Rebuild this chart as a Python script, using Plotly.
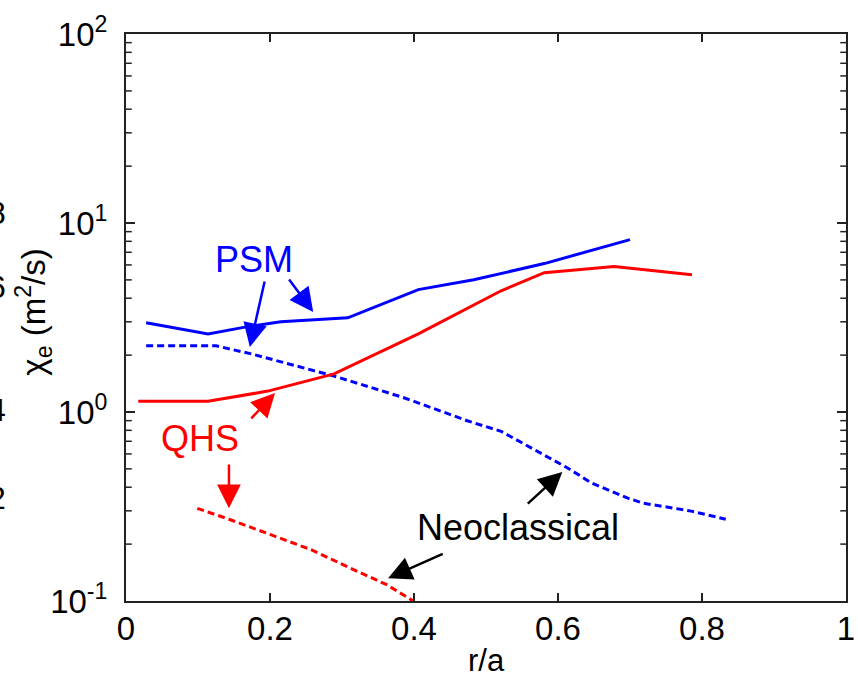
import math
import plotly.graph_objects as go

# ---- data ----
psm_r = [0.028, 0.114, 0.169, 0.215, 0.308, 0.406, 0.483, 0.581, 0.700]
psm_chi = [2.97, 2.59, 2.83, 3.00, 3.15, 4.44, 5.01, 6.10, 8.17]

psm_neo_r = [0.028, 0.125, 0.174, 0.289, 0.386, 0.475, 0.521, 0.554, 0.614, 0.647, 0.697, 0.719, 0.785, 0.833]
psm_neo_chi = [2.24, 2.24, 2.03, 1.55, 1.19, 0.896, 0.79, 0.676, 0.504, 0.42, 0.35, 0.329, 0.299, 0.271]

qhs_r = [0.017, 0.114, 0.197, 0.289, 0.406, 0.521, 0.581, 0.678, 0.786]
qhs_chi = [1.14, 1.14, 1.29, 1.59, 2.59, 4.38, 5.46, 5.88, 5.33]

qhs_neo_r = [0.099, 0.144, 0.200, 0.257, 0.312, 0.362, 0.399]
qhs_neo_chi = [0.309, 0.27, 0.225, 0.187, 0.149, 0.122, 0.100]

x_ticks = [0, 0.2, 0.4, 0.6, 0.8, 1]
x_tick_text = ["0", "0.2", "0.4", "0.6", "0.8", "1"]
y_ticks = [0.1, 1, 10, 100]
y_tick_text = ["10<sup>-1</sup>", "10<sup>0</sup>", "10<sup>1</sup>", "10<sup>2</sup>"]
y_minor = [m * 10 ** e for e in (-1, 0, 1) for m in range(2, 10)]

BLUE = "#0000ff"
RED = "#ff0000"
AXC = "#222222"
FONT = "Arial, Liberation Sans, Helvetica, sans-serif"
DASH = "7px,4px"

fig = go.Figure()
fig.add_trace(go.Scatter(x=psm_r, y=psm_chi, mode="lines",
                         line=dict(color=BLUE, width=3), name="PSM"))
fig.add_trace(go.Scatter(x=psm_neo_r, y=psm_neo_chi, mode="lines",
                         line=dict(color=BLUE, width=3, dash=DASH), name="PSM neo"))
fig.add_trace(go.Scatter(x=qhs_r, y=qhs_chi, mode="lines",
                         line=dict(color=RED, width=3), name="QHS"))
fig.add_trace(go.Scatter(x=qhs_neo_r, y=qhs_neo_chi, mode="lines",
                         line=dict(color=RED, width=3, dash=DASH), name="QHS neo"))

# text labels (x, chi value)
labels = [
    ("PSM", 0.178, 6.41, BLUE),
    ("QHS", 0.103, 0.728, RED),
    ("Neoclassical", 0.544, 0.245, "black"),
]
for txt, x, y, c in labels:
    fig.add_annotation(x=x, y=math.log10(y), xref="x", yref="y", text=txt, showarrow=False,
                       font=dict(family=FONT, size=36, color=c),
                       xanchor="center", yanchor="middle")

# arrows: (tail_x, tail_chi, head_x, head_chi, colour)
arrows = [
    (0.193, 4.99, 0.172, 2.21, BLUE),
    (0.225, 5.12, 0.260, 3.38, BLUE),
    (0.172, 0.908, 0.207, 1.26, RED),
    (0.143, 0.537, 0.143, 0.31, RED),
    (0.556, 0.322, 0.606, 0.482, "black"),
    (0.442, 0.179, 0.364, 0.132, "black"),
]
for tx, ty, hx, hy, c in arrows:
    fig.add_annotation(x=hx, y=math.log10(hy), ax=tx, ay=math.log10(ty),
                       xref="x", yref="y", axref="x", ayref="y",
                       text="", showarrow=True, arrowhead=2, arrowsize=1.9,
                       arrowwidth=2.5, arrowcolor=c)

# minor log ticks (inside, both sides)
for v in y_minor:
    for x0, x1 in [(0, 0.008), (1, 0.992)]:
        fig.add_shape(type="line", xref="paper", yref="y", x0=x0, x1=x1, y0=v, y1=v,
                      line=dict(color=AXC, width=1.5), layer="above")

# axis titles
fig.add_annotation(x=-0.128, y=0.51, xref="paper", yref="paper",
                   text="χ<sub>e</sub> (m<sup>2</sup>/s)", textangle=-90, showarrow=False,
                   xanchor="center", yanchor="middle",
                   font=dict(family=FONT, size=33, color="black"))
fig.add_annotation(x=0.5, y=-0.105, xref="paper", yref="paper", text="r/a", showarrow=False,
                   xanchor="center", yanchor="middle",
                   font=dict(family=FONT, size=31, color="black"))

# fragments of the neighbouring panel at the left edge
for txt, yp in [("8", 0.684), ("6", 0.554), ("4", 0.337), ("2", 0.182)]:
    fig.add_annotation(x=-0.164, y=yp, xref="paper", yref="paper", text=txt,
                       showarrow=False, xanchor="right", yanchor="middle",
                       font=dict(family=FONT, size=32, color="black"))

fig.update_layout(
    width=858, height=676,
    margin=dict(l=126, r=12, t=34, b=75, autoexpand=False),
    paper_bgcolor="white", plot_bgcolor="white",
    showlegend=False,
    font=dict(family=FONT, color="black"),
)
fig.update_xaxes(
    range=[0, 1], tickvals=x_ticks, ticktext=x_tick_text,
    ticks="inside", ticklen=8, tickwidth=1.5, tickcolor=AXC,
    showline=True, linewidth=2, linecolor=AXC, mirror="ticks",
    showgrid=False, zeroline=False, automargin=False,
    tickfont=dict(family=FONT, size=33, color="black"),
    ticklabelstandoff=-3,
)
fig.update_yaxes(
    type="log", range=[-1, 2], tickvals=y_ticks, ticktext=y_tick_text,
    ticks="inside", ticklen=9, tickwidth=1.5, tickcolor=AXC,
    showline=True, linewidth=2, linecolor=AXC, mirror="ticks",
    showgrid=False, zeroline=False, automargin=False,
    tickfont=dict(family=FONT, size=33, color="black"),
    ticklabelstandoff=10,
)

fig.write_html("out.html", config={"displayModeBar": False},
               post_script="document.body.style.margin='0';")
